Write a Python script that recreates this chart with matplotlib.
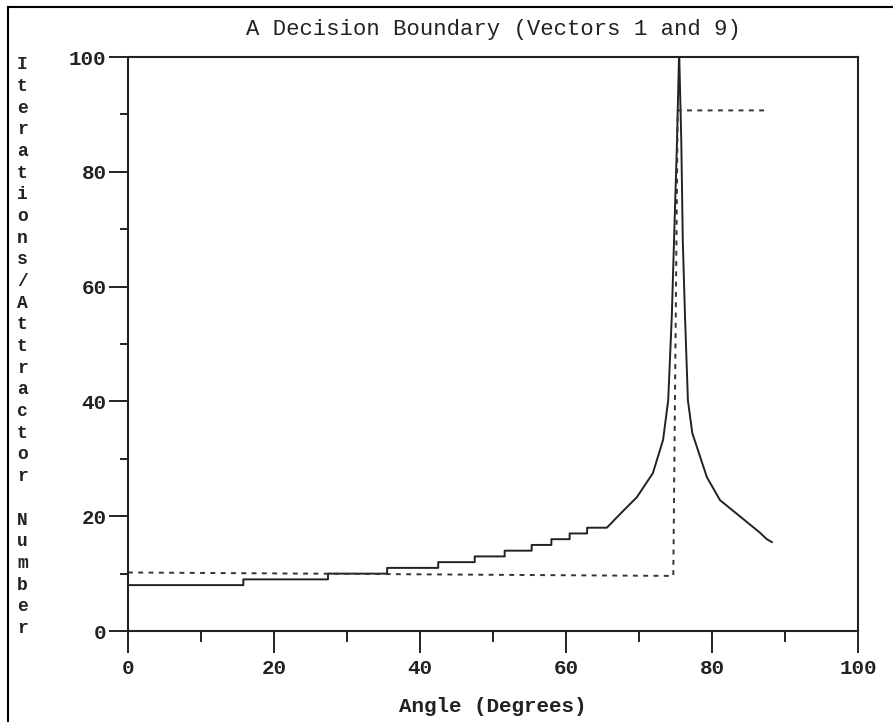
import numpy as np
import matplotlib
matplotlib.use("Agg")
import matplotlib.pyplot as plt
from matplotlib.lines import Line2D

# Curva de iterações (linha cheia)
angulo_iter = [0, 15.8, 15.8, 27.4, 27.4, 35.5, 35.5, 42.5, 42.5, 47.5, 47.5,
               51.6, 51.6, 55.3, 55.3, 58.0, 58.0, 60.5, 60.5, 62.9, 62.9,
               65.6, 67.5, 69.7, 71.9, 73.3, 74.0, 74.5, 74.8, 75.2, 75.5,
               75.8, 76.0, 76.3, 76.7, 77.3, 79.3, 81.1, 84.0, 86.6, 87.5, 88.2]
iteracoes = [8, 8, 9, 9, 10, 10, 11, 11, 12, 12, 13,
             13, 14, 14, 15, 15, 16, 16, 17, 17, 18,
             18, 20.5, 23.3, 27.5, 33.3, 40.2, 55, 68, 85, 101,
             85, 68, 55, 40.2, 34.5, 26.8, 22.8, 19.8, 17.1, 16.0, 15.5]

# Número do atrator (linha tracejada)
angulo_atrator = [0, 74.7, 75.3, 87.5]
atrator = [10.2, 9.6, 90.7, 90.7]

FONTE = ['Liberation Mono', 'DejaVu Sans Mono']

fig = plt.figure(figsize=(8.93, 7.22), dpi=100)
ax = fig.add_axes([0.1433, 0.126, 0.8175, 0.795])

ax.plot(angulo_iter, iteracoes, color='#222222', lw=1.4, clip_on=True)
ax.plot(angulo_atrator, atrator, color='#333333', lw=1.4, ls=(0, (2.5, 2.8)))

ax.set_xlim(0, 100)
ax.set_ylim(0, 100)
ax.set_xticks(np.arange(0, 101, 20))
ax.set_xticks(np.arange(10, 100, 20), minor=True)
ax.set_yticks(np.arange(0, 101, 20))
ax.set_yticks(np.arange(10, 100, 20), minor=True)

for s in ax.spines.values():
    s.set_linewidth(1.5)
    s.set_color('#222222')

ax.tick_params(axis='x', which='major', direction='out', length=16, width=1.4,
               color='#222222', labelsize=15, pad=4)
ax.tick_params(axis='x', which='minor', direction='out', length=8, width=1.4,
               color='#222222')
ax.tick_params(axis='y', which='major', direction='out', length=14, width=1.4,
               color='#222222', labelsize=15, pad=1.5)
ax.tick_params(axis='y', which='minor', direction='out', length=6, width=1.4,
               color='#222222')
for lab in ax.get_xticklabels() + ax.get_yticklabels():
    lab.set_family(FONTE)
    lab.set_fontweight('bold')
    lab.set_color('#222222')

ax.set_xlabel('Angle (Degrees)', family=FONTE, fontsize=15, fontweight='bold',
              color='#222222', labelpad=14)
ax.set_title('A Decision Boundary (Vectors 1 and 9)', family=FONTE, fontsize=16,
             color='#222222', pad=16)

# Rótulo vertical com letras empilhadas
rotulo = 'Iterations/Attractor Number'
fig.text(0.025, 0.52, '\n'.join(rotulo), family=FONTE, fontsize=13,
         fontweight='bold', color='#222222', ha='center', va='center',
         linespacing=1.36)

# Borda da imagem escaneada (só esquerda e topo)
fig.add_artist(Line2D([0.009, 0.009], [0.0, 0.99], transform=fig.transFigure,
                      color='black', lw=1.5))
fig.add_artist(Line2D([0.009, 1.0], [0.99, 0.99], transform=fig.transFigure,
                      color='black', lw=1.5))

fig.savefig('out.png', dpi=100)
